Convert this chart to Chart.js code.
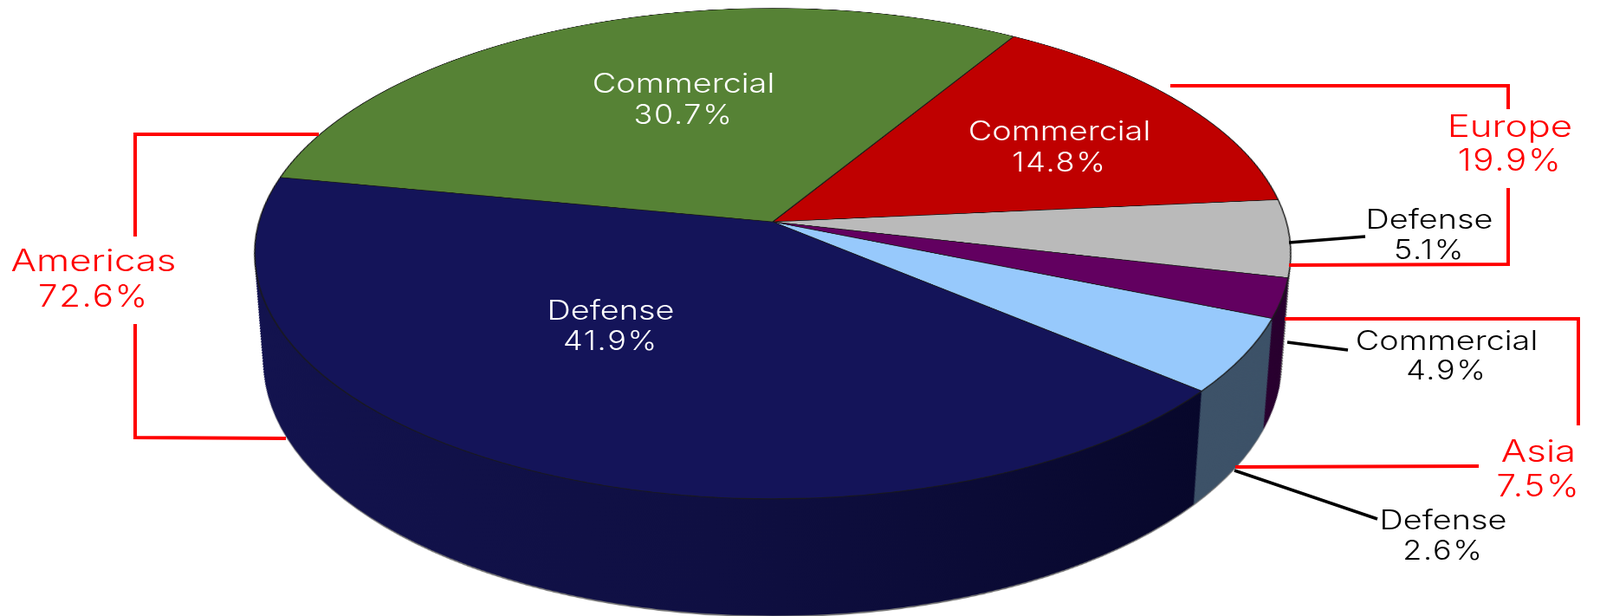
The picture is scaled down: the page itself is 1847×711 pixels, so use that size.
<!DOCTYPE html>
<html>
<head>
<meta charset="utf-8">
<script src="https://cdn.jsdelivr.net/npm/chart.js@4"></script>
<style>
    html, body { margin: 0; padding: 0; background: #fff; width: 1847px; height: 711px; overflow: hidden; }
    #pieChart { position: absolute; left: -8px; top: -644px; transform-origin: 900px 900px; transform: perspective(4042px) rotateX(62deg); }
    #labelChart { position: absolute; left: 0; top: 0; }
</style>
</head>
<body>
<canvas id="pieChart" width="1800" height="1800"></canvas>
<canvas id="labelChart" width="1847" height="711"></canvas>
<script>
const categories = ["Commercial", "Defense", "Defense", "Commercial", "Defense", "Commercial"];
const shares = [14.8, 5.1, 2.6, 4.9, 41.9, 30.7];
const regions = ["Europe", "Asia", "Americas"];
const regionShares = [19.9, 7.5, 72.6];

const topColors = ["#bf0000", "#bababa", "#620060", "#97c9fc", "#141459", "#568235"];
const wallColors = ["#7a0000", "#777777", "#2a0030", "#3d5268", "navy", "#36521f"];

// label layout: centre x, first baseline, second baseline, colour, slice index
const sliceLabels = [
    [1223, 162, 198, "#fff", 0],
    [1650, 264, 299, "#000", 1],
    [1666, 611, 646, "#000", 2],
    [1670, 404, 438, "#000", 3],
    [705, 369, 404, "#fff", 4],
    [789, 107, 143, "#fff", 5],
];
const regionLabels = [
    [1743, 158, 197, 0],
    [1776, 533, 573, 1],
    [108, 313, 354, 2],
];

const redLeaders = [
    [[368, 155], [156, 155], [156, 273]],
    [[156, 374], [156, 505], [330, 506]],
    [[1351, 99], [1741, 99], [1741, 126]],
    [[1741, 217], [1741, 305], [1488, 306]],
    [[1483, 368], [1822, 368], [1822, 491]],
    [[1426, 539], [1707, 538]],
];
const blackLeaders = [
    [[1488, 280], [1576, 273]],
    [[1486, 395], [1556, 404]],
    [[1425, 543], [1590, 599]],
];

const PIE_RADIUS = 593;
const WALL_DROP = 248;
const WALL_SHRINK = 0.07;
const WALL_LAYERS = 200;

// the side of the pie: the same arcs redrawn from the bottom disc up to the top one
const pieWall = {
    id: "pieWall",
    beforeDatasetsDraw(chart) {
        const ctx = chart.ctx;
        const arcs = chart.getDatasetMeta(0).data;
        const cx = arcs[0].x, cy = arcs[0].y;

        const navyWall = ctx.createLinearGradient(cx - PIE_RADIUS, 0, cx + PIE_RADIUS, 0);
        navyWall.addColorStop(0, "#13134f");
        navyWall.addColorStop(0.45, "#0f0f42");
        navyWall.addColorStop(0.9, "#07072a");
        navyWall.addColorStop(1, "#060622");

        const drawLayer = (t, colorOf) => {
            const s = 1 - WALL_SHRINK * t;
            ctx.save();
            ctx.translate(cx, cy + WALL_DROP * t);
            ctx.scale(s, s);
            ctx.translate(-cx, -cy);
            arcs.forEach((arc, i) => {
                const options = arc.options;
                arc.options = Object.assign(Object.create(options), {
                    backgroundColor: colorOf(i),
                    borderWidth: 0,
                });
                arc.draw(ctx);
                arc.options = options;
            });
            ctx.restore();
        };

        // thin grey rim under the bottom edge
        drawLayer(1.012, () => "#777777");
        for (let n = WALL_LAYERS; n >= 1; n--) {
            drawLayer(n / WALL_LAYERS, (i) => (wallColors[i] === "navy" ? navyWall : wallColors[i]));
        }
    },
};

new Chart(document.getElementById("pieChart"), {
    type: "pie",
    data: {
        labels: categories,
        datasets: [{
            data: shares,
            backgroundColor: topColors,
            borderColor: "#1a1a1a",
            borderWidth: 1.5,
        }],
    },
    options: {
        responsive: false,
        animation: false,
        devicePixelRatio: 1,
        rotation: 31.4,
        radius: PIE_RADIUS,
        plugins: { legend: { display: false }, tooltip: { enabled: false } },
    },
    plugins: [pieWall],
});

const pct = (v) => v.toFixed(1) + "%";

const stretchedText = (ctx, text, x, y, font, color, stretch, spacing) => {
    ctx.save();
    ctx.font = font;
    ctx.fillStyle = color;
    ctx.textAlign = "center";
    ctx.textBaseline = "alphabetic";
    ctx.letterSpacing = spacing;
    ctx.translate(x, y);
    ctx.scale(stretch, 1);
    ctx.fillText(text, 0, 0);
    ctx.restore();
};

const labelsPlugin = {
    id: "labelsPlugin",
    afterDraw(chart) {
        const ctx = chart.ctx;
        sliceLabels.forEach(([x, y1, y2, color, i]) => {
            stretchedText(ctx, categories[i], x, y1, "300 31px Inter", color, 1.22, "0px");
            stretchedText(ctx, pct(shares[i]), x, y2, "300 31px Inter", color, 1.16, "1.5px");
        });
        regionLabels.forEach(([x, y1, y2, i]) => {
            stretchedText(ctx, regions[i], x, y1, "300 35px Inter", "#ff0000", 1.25, "0px");
            stretchedText(ctx, pct(regionShares[i]), x, y2, "300 35px Inter", "#ff0000", 1.15, "1.5px");
        });
    },
};

const leaderDataset = (points, color, width) => ({
    data: points.map(([x, y]) => ({ x, y })),
    showLine: true,
    borderColor: color,
    borderWidth: width,
    pointRadius: 0,
    clip: false,
    borderJoinStyle: "miter",
});

new Chart(document.getElementById("labelChart"), {
    type: "scatter",
    data: {
        datasets: [
            ...redLeaders.map((p) => leaderDataset(p, "#ff0000", 4)),
            ...blackLeaders.map((p) => leaderDataset(p, "#000000", 3.5)),
        ],
    },
    options: {
        responsive: false,
        animation: false,
        devicePixelRatio: 1,
        scales: {
            x: { type: "linear", display: false, min: 0, max: 1847 },
            y: { type: "linear", display: false, min: 0, max: 711, reverse: true },
        },
        plugins: { legend: { display: false }, tooltip: { enabled: false } },
    },
    plugins: [labelsPlugin],
});
</script>
</body>
</html>
